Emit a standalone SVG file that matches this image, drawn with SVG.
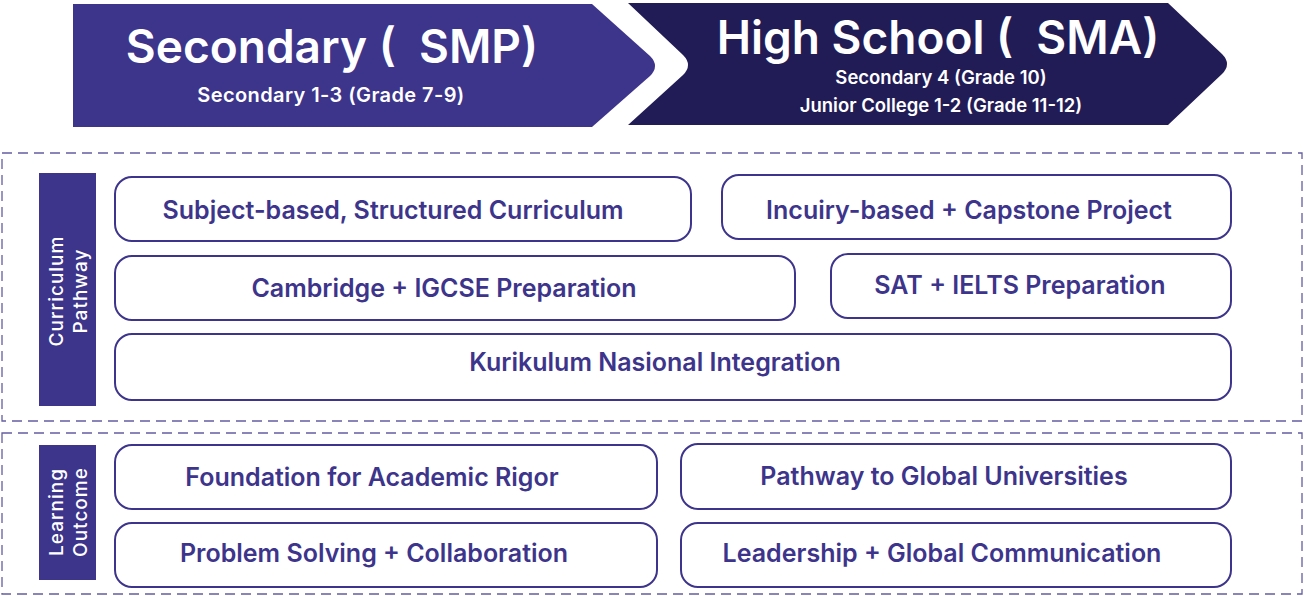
<svg xmlns="http://www.w3.org/2000/svg" width="1304" height="596" viewBox="0 0 1304 596">
<style>
.pill{fill:#fff;stroke:#3D348B;stroke-width:2}
.pt{font-family:Inter,"Noto Sans",sans-serif;font-weight:600;font-size:25px;fill:#3D348B;text-anchor:middle}
.dash{fill:none;stroke:#3D348B;stroke-width:1.3;stroke-dasharray:10 6;opacity:0.8}
.side{fill:#3D348B}
.st{font-family:Inter,"Noto Sans",sans-serif;font-weight:500;font-size:19px;fill:#fff;text-anchor:middle;letter-spacing:1px}
.h1{font-family:Inter,"Noto Sans",sans-serif;font-weight:600;font-size:46px;fill:#fff;text-anchor:middle}
.h2{font-family:Inter,"Noto Sans",sans-serif;font-weight:600;font-size:18.5px;fill:#fff;text-anchor:middle}
.h3{font-family:Inter,"Noto Sans",sans-serif;font-weight:600;font-size:20px;fill:#fff;text-anchor:middle;letter-spacing:0.4px}
</style>
<rect width="1304" height="596" fill="#fff"/>
<g id="banner-smp">
<path d="M73,4 H592 L650,56 Q660,66 650,76 L592,127 H73 Z" fill="#3D348B"/>
<text class="h1" x="332" y="63">Secondary (&#160; SMP)</text>
<text class="h3" x="331" y="102">Secondary 1-3 (Grade 7-9)</text>
</g>
<g id="banner-sma">
<path d="M628,3 H1168 L1222,54 Q1232,64 1222,74 L1168,125 H628 L683,75 Q693,65 683,55 Z" fill="#221C56"/>
<text class="h1" x="938" y="54">High School (&#160; SMA)</text>
<text class="h2" x="941" y="84">Secondary 4 (Grade 10)</text>
<text class="h2" x="941" y="112">Junior College 1-2 (Grade 11-12)</text>
</g>
<g id="curriculum-pathway">
<rect class="dash" x="2" y="153" width="1300" height="268"/>
<rect class="side" x="39" y="173" width="57" height="233"/>
<text class="st" transform="translate(67,291) rotate(-90)"><tspan x="0" y="-4">Curriculum</tspan><tspan x="0" y="20">Pathway</tspan></text>
</g>
<g id="learning-outcome">
<rect class="dash" x="2" y="433" width="1300" height="161"/>
<rect class="side" x="39" y="445" width="57" height="135"/>
<text class="st" transform="translate(67,512) rotate(-90)"><tspan x="0" y="-4">Learning</tspan><tspan x="0" y="20">Outcome</tspan></text>
</g>
<g id="n1"><rect class="pill" x="115" y="177" width="576" height="64" rx="17"/><text class="pt" x="393" y="219">Subject-based, Structured Curriculum</text></g>
<g id="n2"><rect class="pill" x="722" y="175" width="509" height="64" rx="17"/><text class="pt" x="969" y="219">Incuiry-based + Capstone Project</text></g>
<g id="n3"><rect class="pill" x="115" y="256" width="680" height="64" rx="17"/><text class="pt" x="444" y="297">Cambridge + IGCSE Preparation</text></g>
<g id="n4"><rect class="pill" x="831" y="254" width="400" height="64" rx="17"/><text class="pt" x="1020" y="294">SAT + IELTS Preparation</text></g>
<g id="n5"><rect class="pill" x="115" y="334" width="1116" height="66" rx="17"/><text class="pt" x="655" y="371">Kurikulum Nasional Integration</text></g>
<g id="n6"><rect class="pill" x="115" y="445" width="542" height="64" rx="17"/><text class="pt" x="372" y="486">Foundation for Academic Rigor</text></g>
<g id="n7"><rect class="pill" x="681" y="444" width="550" height="65" rx="17"/><text class="pt" x="944" y="485">Pathway to Global Universities</text></g>
<g id="n8"><rect class="pill" x="115" y="523" width="542" height="64" rx="17"/><text class="pt" x="374" y="562">Problem Solving + Collaboration</text></g>
<g id="n9"><rect class="pill" x="681" y="523" width="550" height="64" rx="17"/><text class="pt" x="942" y="562">Leadership + Global Communication</text></g>
<g id="connectors"/>
</svg>
